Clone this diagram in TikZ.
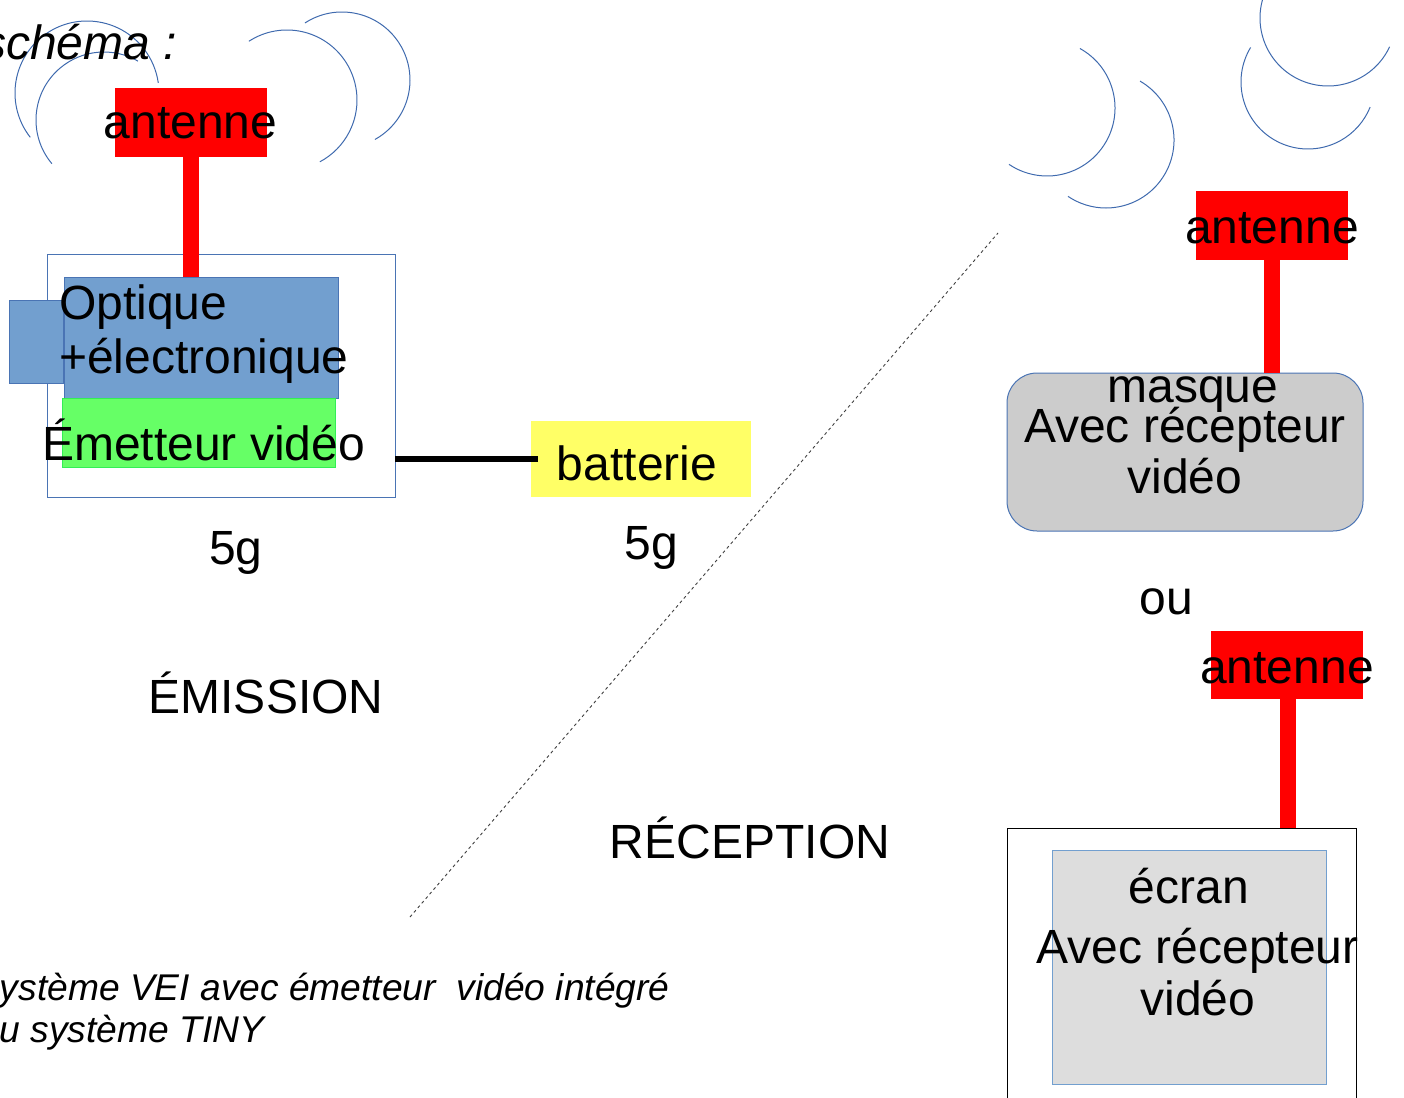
\documentclass[tikz,border=0pt]{standalone}
\usepackage{fontspec}
\setmainfont{Liberation Sans}
\definecolor{waveblue}{HTML}{3F6AAE}
\definecolor{optblue}{HTML}{729FCF}
\definecolor{optedge}{HTML}{4A74B4}
\definecolor{emitgreen}{HTML}{66FF66}
\definecolor{emitedge}{HTML}{33EE55}
\definecolor{battyellow}{HTML}{FFFF66}
\definecolor{maskgray}{HTML}{CCCCCC}
\definecolor{screengray}{HTML}{DDDDDD}
\begin{document}
\begin{tikzpicture}[x=1pt,y=-1pt,
  big/.style={font=\fontsize{48}{55}\selectfont, inner sep=0pt, outer sep=0pt},
  bigit/.style={font=\fontsize{48}{55}\selectfont\itshape, inner sep=0pt, outer sep=0pt},
  note/.style={font=\fontsize{37.2}{42}\selectfont\itshape, inner sep=0pt, outer sep=0pt},
  box/.style={rectangle, inner sep=0pt, outer sep=0pt},
  antbox/.style={box, fill=red, minimum width=152pt, minimum height=69pt},
  mast/.style={draw=red, line width=16pt},
  wave/.style={draw=waveblue, line width=1pt},
  wire/.style={draw=black, line width=5.5pt},
  sep/.style={draw=black!75, line width=0.9pt, dash pattern=on 3pt off 3pt}
]
\useasboundingbox (0,0) rectangle (1404,1097);
\clip (0,0) rectangle (1404,1097);

% radio waves around the transmitter antenna
\draw[wave] (87,93) ++(142:72) arc[start angle=142, end angle=352, radius=72];
\draw[wave] (104,120) ++(140:68) arc[start angle=140, end angle=300, radius=68];
\draw[wave] (287,100) ++(237:70) arc[start angle=237, end angle=422, radius=70];
\draw[wave] (342,80) ++(237:68) arc[start angle=237, end angle=421, radius=68];

% radio waves on the receiving side
\draw[wave] (1047,108) ++(-61:68) arc[start angle=-61, end angle=124, radius=68];
\draw[wave] (1106,140) ++(-60:68) arc[start angle=-60, end angle=124, radius=68];
\draw[wave] (1328,18) ++(200:68) arc[start angle=200, end angle=25, radius=68];
\draw[wave] (1308,82) ++(211:67) arc[start angle=211, end angle=22, radius=67];

% ---------- emission side ----------
\node[bigit, anchor=base east] (title) at (177,60) {schéma :};

\node[antbox] (ant1) at (191,122.5) {};
\node[box, draw=optedge, line width=0.8pt, minimum width=348pt, minimum height=243pt] (emit) at (221,375.5) {};
\node[box, fill=optblue, draw=optedge, line width=0.8pt, minimum width=54pt, minimum height=83pt] (lens) at (36,341.5) {};
\node[box, fill=optblue, draw=optedge, line width=0.8pt, minimum width=274pt, minimum height=121pt] (optique) at (201,337.5) {};
\node[box, fill=emitgreen, draw=emitedge, line width=0.8pt, minimum width=273pt, minimum height=69pt] (tx) at (198.5,432.5) {};
\node[box, fill=battyellow, minimum width=220pt, minimum height=76pt] (batt) at (641,459) {};

\draw[mast] (ant1.south) -- (ant1.south |- optique.north);
\draw[wire] (emit.east |- batt.west) -- ([xshift=7pt]batt.west);

\node[big, anchor=base] (antlbl1) at (190.5,138) {antenne};
\node[big, anchor=base west] (optlbl1) at (59,319) {Optique};
\node[big, anchor=base west] (optlbl2) at (59,373) {+électronique};
\node[big, anchor=base west] (txlbl) at (42,460) {Émetteur vidéo};
\node[big, anchor=base] (battlbl) at (637,480) {batterie};
\node[big, anchor=base] (mass1) at (236,564) {5g};
\node[big, anchor=base] (mass2) at (651,559) {5g};
\node[big, anchor=base] (emission) at (266,713) {ÉMISSION};

% ---------- separation ----------
\coordinate (sepA) at (410,917);
\coordinate (sepB) at (998,233);
\draw[sep] (sepA) -- (sepB);

\node[big, anchor=base] (reception) at (750,858) {RÉCEPTION};

\node[note, anchor=base west] (note1) at (-25,1000) {Système VEI avec émetteur\ \ vidéo intégré};
\node[note, anchor=base west] (note2) at (-21,1042) {ou système TINY};

% ---------- reception side ----------
\node[antbox] (ant2) at (1272,225.5) {};
\node[box, fill=maskgray, draw=optedge, line width=1pt, rounded corners=30pt, minimum width=356pt, minimum height=158pt] (masque) at (1185,452) {};
\draw[mast] (ant2.south) -- (ant2.south |- masque.north);

\node[big, anchor=base] (antlbl2) at (1272,243) {antenne};
\node[big, anchor=base] (masklbl) at (1193,402) {masque};
\node[big, anchor=base] (masklbl2) at (1185,442) {Avec récepteur};
\node[big, anchor=base] (masklbl3) at (1185,493) {vidéo};

\node[big, anchor=base] (ou) at (1166,614) {ou};

\node[antbox, minimum height=68pt] (ant3) at (1287,665) {};
\node[box, draw=black, line width=1pt, minimum width=349pt, minimum height=282pt] (screen) at (1181.5,969) {};
\node[box, fill=screengray, draw=optblue, line width=1pt, minimum width=274pt, minimum height=234pt] (ecran) at (1189,967) {};
\draw[mast] ([xshift=1pt]ant3.south) -- ([xshift=1pt]ant3.south |- screen.north);

\node[big, anchor=base] (antlbl3) at (1287,683) {antenne};
\node[big, anchor=base] (ecranlbl) at (1189,903) {écran};
\node[big, anchor=base] (ecranlbl2) at (1197.5,963) {Avec récepteur};
\node[big, anchor=base] (ecranlbl3) at (1198,1015) {vidéo};
\end{tikzpicture}
\end{document}
